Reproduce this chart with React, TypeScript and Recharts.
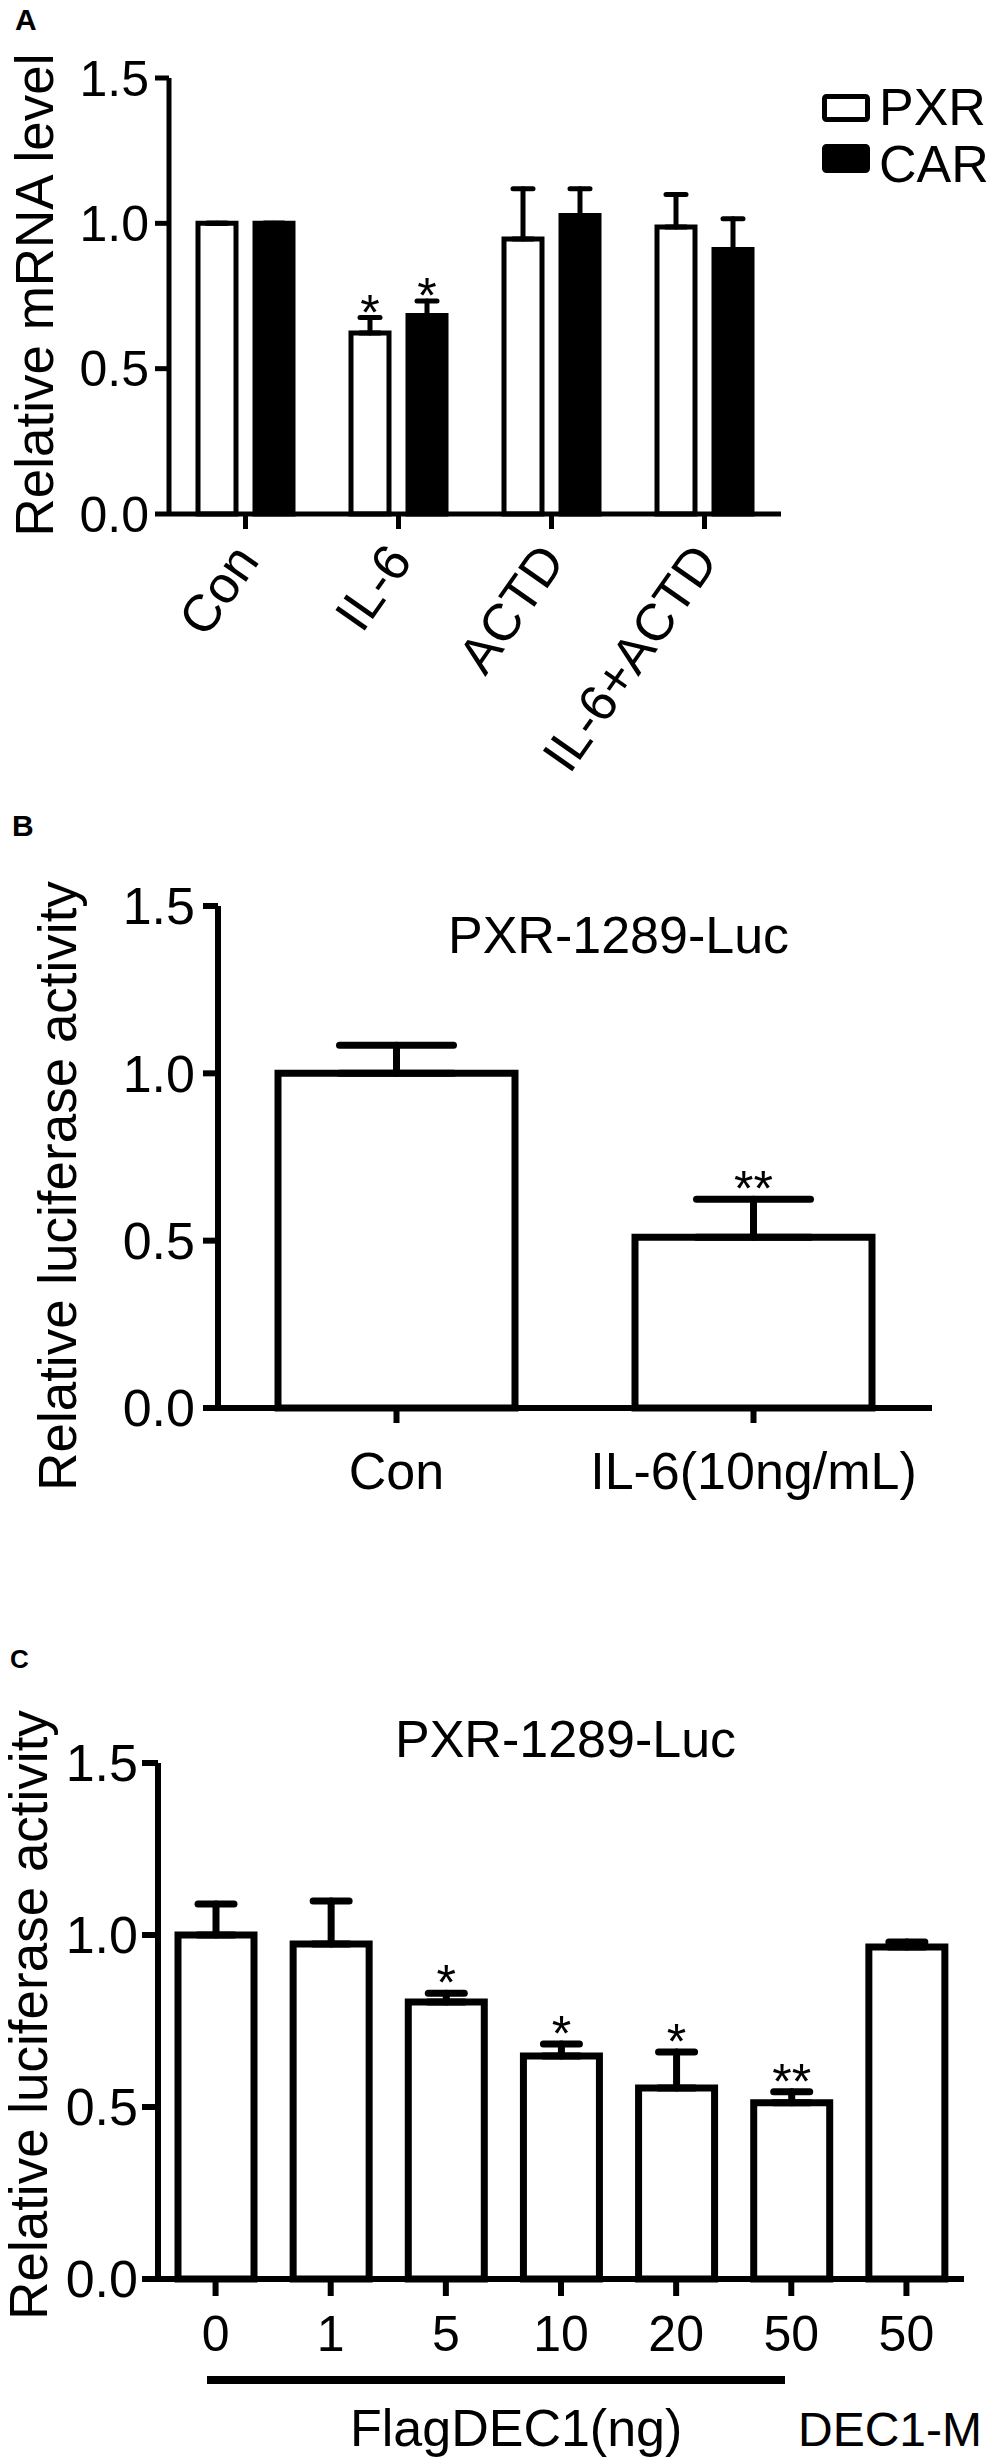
import React from 'react';
import { BarChart, Bar, XAxis, YAxis, ErrorBar, LabelList, Legend, Label } from 'recharts';

const FONT = '"Liberation Sans", Arial, Helvetica, sans-serif';

// ---------- Panel A ----------
const aCategories = ['Con', 'IL-6', 'ACTD', 'IL-6+ACTD'];
const aPXR = [1.0, 0.623, 0.946, 0.987];
const aPXRErr = [0, 0.053, 0.173, 0.112];
const aCAR = [1.0, 0.683, 1.027, 0.91];
const aCARErr = [0, 0.05, 0.092, 0.106];
const aPXRSig = ['', '*', '', ''];
const aCARSig = ['', '*', '', ''];
const aLegendOrder = ['PXR', 'CAR'];
const yTicks = [0, 0.5, 1.0, 1.5];

// ---------- Panel B ----------
const bCategories = ['Con', 'IL-6(10ng/mL)'];
const bValues = [1.0, 0.51];
const bErr = [0.084, 0.114];
const bSig = ['', '**'];

// ---------- Panel C ----------
const cCategories = ['0', '1', '5', '10', '20', '50', '50'];
const cValues = [1.0, 0.974, 0.805, 0.648, 0.555, 0.512, 0.965];
const cErr = [0.09, 0.125, 0.026, 0.035, 0.105, 0.032, 0.015];
const cSig = ['', '', '*', '*', '*', '**', ''];

const aData = aCategories.map((c, i) => ({
  cat: c,
  pxr: aPXR[i],
  pxrErr: [0, aPXRErr[i]],
  pxrSig: aPXRSig[i],
  car: aCAR[i],
  carErr: [0, aCARErr[i]],
  carSig: aCARSig[i],
}));
const bData = bCategories.map((c, i) => ({ cat: c, v: bValues[i], err: [0, bErr[i]], sig: bSig[i] }));
const cData = cCategories.map((c, i) => ({ id: i, cat: c, v: cValues[i], err: [0, cErr[i]], sig: cSig[i] }));

const fmt = (v: number) => Number(v).toFixed(1);

const makeSig = (vals: number[], errs: number[], sigs: string[], gap: number, fs: number) => (props: any) => {
  const { x, y, width, height, index } = props;
  const s = sigs[index];
  if (!s) return null;
  const pxPerUnit = Number(height) / vals[index];
  const top = Number(y) - errs[index] * pxPerUnit;
  const bottom = top - gap;
  return (
    <text
      key={`sig-${index}`}
      x={Number(x) + Number(width) / 2}
      y={bottom + 0.423 * fs}
      textAnchor="middle"
      fontSize={fs}
      fontFamily={FONT}
      fill="#000"
    >
      {s}
    </text>
  );
};

const RotTick = (props: any) => {
  const { x, y, payload } = props;
  const ax = x + 15;
  const ay = y + 30;
  return (
    <text
      x={ax}
      y={ay}
      transform={`rotate(-55 ${ax} ${ay})`}
      textAnchor="end"
      fontSize={52}
      fontFamily={FONT}
      fill="#000"
    >
      {payload.value}
    </text>
  );
};

const LegendA = (props: any) => {
  const payload = props.payload || [];
  const items = aLegendOrder
    .map((n) => payload.find((p: any) => p.value === n))
    .filter(Boolean);
  return (
    <svg width={185} height={110} style={{ display: 'block', overflow: 'visible' }}>
      {items.map((e: any, i: number) => {
        const top = i === 0 ? 16.5 : 66.5;
        const white = e.color === '#fff' || e.color === '#ffffff' || e.color === 'white';
        return (
          <g key={e.value}>
            <rect x={9.5} y={top} width={43} height={i === 0 ? 23 : 24} fill={white ? '#fff' : '#000'} stroke="#000" strokeWidth={5} rx={2} />
            <text x={64} y={i === 0 ? 45 : 102} fontSize={52} fontFamily={FONT} fill="#000">
              {e.value}
            </text>
          </g>
        );
      })}
    </svg>
  );
};

const yLabel = (text: string, x: number, y: number) => () => (
  <text
    x={x}
    y={y}
    transform={`rotate(-90 ${x} ${y})`}
    textAnchor="middle"
    fontSize={53}
    fontFamily={FONT}
    fill="#000"
  >
    {text}
  </text>
);

export default function App() {
  const axisA = { stroke: '#000', strokeWidth: 5 };
  const axisB = { stroke: '#000', strokeWidth: 6 };
  return (
    <div style={{ position: 'absolute', left: 0, top: 0, width: 1000, height: 2460, background: '#fff', fontFamily: FONT }}>
      {/* Panel A */}
      <div style={{ position: 'absolute', left: 0, top: 0 }}>
        <BarChart
          width={1000}
          height={800}
          data={aData}
          margin={{ top: 78, right: 219, bottom: 800 - 514 - 40, left: 169 - 100 }}
          barGap={19}
        >
          <XAxis
            dataKey="cat"
            height={40}
            interval={0}
            tickSize={15}
            axisLine={axisA}
            tickLine={axisA}
            tick={<RotTick />}
          />
          <YAxis
            width={100}
            domain={[0, 1.5]}
            ticks={yTicks}
            tickFormatter={fmt}
            tickSize={14}
            tickMargin={6}
            axisLine={axisA}
            tickLine={axisA}
            tick={{ fill: '#000', fontSize: 50, fontFamily: FONT }}
          >
            <Label content={yLabel('Relative mRNA level', 53, 295)} />
          </YAxis>
          <Legend
            layout="vertical"
            align="center"
            verticalAlign="middle"
            wrapperStyle={{ left: 815, top: 80, width: 185, height: 110, overflow: 'visible' }}
            content={<LegendA />}
          />
          <Bar dataKey="pxr" name="PXR" barSize={38} fill="#fff" stroke="#000" strokeWidth={5} isAnimationActive={false}>
            <ErrorBar dataKey="pxrErr" width={10} strokeWidth={5} stroke="#000" strokeLinecap="round" direction="y" isAnimationActive={false} />
            <LabelList dataKey="pxrSig" content={makeSig(aPXR, aPXRErr, aPXRSig, 9, 50)} />
          </Bar>
          <Bar dataKey="car" name="CAR" barSize={38} fill="#000" stroke="#000" strokeWidth={5} isAnimationActive={false}>
            <ErrorBar dataKey="carErr" width={10} strokeWidth={5} stroke="#000" strokeLinecap="round" direction="y" isAnimationActive={false} />
            <LabelList dataKey="carSig" content={makeSig(aCAR, aCARErr, aCARSig, 9, 50)} />
          </Bar>
        </BarChart>
      </div>

      {/* Panel B */}
      <div style={{ position: 'absolute', left: 0, top: 800 }}>
        <BarChart
          width={1000}
          height={760}
          data={bData}
          margin={{ top: 106, right: 68, bottom: 760 - 608 - 60, left: 218 - 120 }}
        >
          <XAxis
            dataKey="cat"
            height={60}
            interval={0}
            tickSize={15}
            tickMargin={29}
            axisLine={axisB}
            tickLine={axisB}
            tick={{ fill: '#000', fontSize: 52, fontFamily: FONT }}
          />
          <YAxis
            width={120}
            domain={[0, 1.5]}
            ticks={yTicks}
            tickFormatter={fmt}
            tickSize={15}
            tickMargin={8}
            axisLine={axisB}
            tickLine={axisB}
            tick={{ fill: '#000', fontSize: 52, fontFamily: FONT }}
          >
            <Label content={yLabel('Relative luciferase activity', 76, 386)} />
          </YAxis>
          <Bar dataKey="v" name="PXR-1289-Luc" barSize={237} fill="#fff" stroke="#000" strokeWidth={7} isAnimationActive={false}>
            <ErrorBar dataKey="err" width={57} strokeWidth={7} stroke="#000" strokeLinecap="round" direction="y" isAnimationActive={false} />
            <LabelList dataKey="sig" content={makeSig(bValues, bErr, bSig, 14, 50)} />
          </Bar>
        </BarChart>
      </div>

      {/* Panel C */}
      <div style={{ position: 'absolute', left: 0, top: 1600 }}>
        <BarChart
          width={1000}
          height={860}
          data={cData}
          margin={{ top: 163, right: 36, bottom: 860 - 679 - 60, left: 158 - 120 }}
        >
          <XAxis
            dataKey="id"
            height={60}
            interval={0}
            tickSize={17}
            tickMargin={19}
            tickFormatter={(v: number) => cCategories[v]}
            axisLine={axisB}
            tickLine={axisB}
            tick={{ fill: '#000', fontSize: 50, fontFamily: FONT }}
          />
          <YAxis
            width={120}
            domain={[0, 1.5]}
            ticks={yTicks}
            tickFormatter={fmt}
            tickSize={16}
            tickMargin={4}
            axisLine={axisB}
            tickLine={axisB}
            tick={{ fill: '#000', fontSize: 52, fontFamily: FONT }}
          >
            <Label content={yLabel('Relative luciferase activity', 47, 415)} />
          </YAxis>
          <Bar dataKey="v" name="PXR-1289-Luc" barSize={76} fill="#fff" stroke="#000" strokeWidth={7} isAnimationActive={false}>
            <ErrorBar dataKey="err" width={18} strokeWidth={7} stroke="#000" strokeLinecap="round" direction="y" isAnimationActive={false} />
            <LabelList dataKey="sig" content={makeSig(cValues, cErr, cSig, 14, 50)} />
          </Bar>
        </BarChart>
      </div>

      {/* Annotations */}
      <svg width={1000} height={2460} style={{ position: 'absolute', left: 0, top: 0, pointerEvents: 'none' }}>
        <text x={15} y={30} fontSize={30} fontWeight="bold" fontFamily={FONT} fill="#000">A</text>
        <text x={12} y={836} fontSize={30} fontWeight="bold" fontFamily={FONT} fill="#000">B</text>
        <text x={10} y={1668} fontSize={26} fontWeight="bold" fontFamily={FONT} fill="#000">C</text>
        <text x={448} y={953} fontSize={52} fontFamily={FONT} fill="#000">PXR-1289-Luc</text>
        <text x={395} y={1757} fontSize={52} fontFamily={FONT} fill="#000">PXR-1289-Luc</text>
        <line x1={207} y1={2380} x2={785} y2={2380} stroke="#000" strokeWidth={8} />
        <text x={350} y={2446} fontSize={52} fontFamily={FONT} fill="#000">FlagDEC1(ng)</text>
        <text x={798} y={2446} fontSize={48} fontFamily={FONT} fill="#000">DEC1-M</text>
      </svg>
    </div>
  );
}
